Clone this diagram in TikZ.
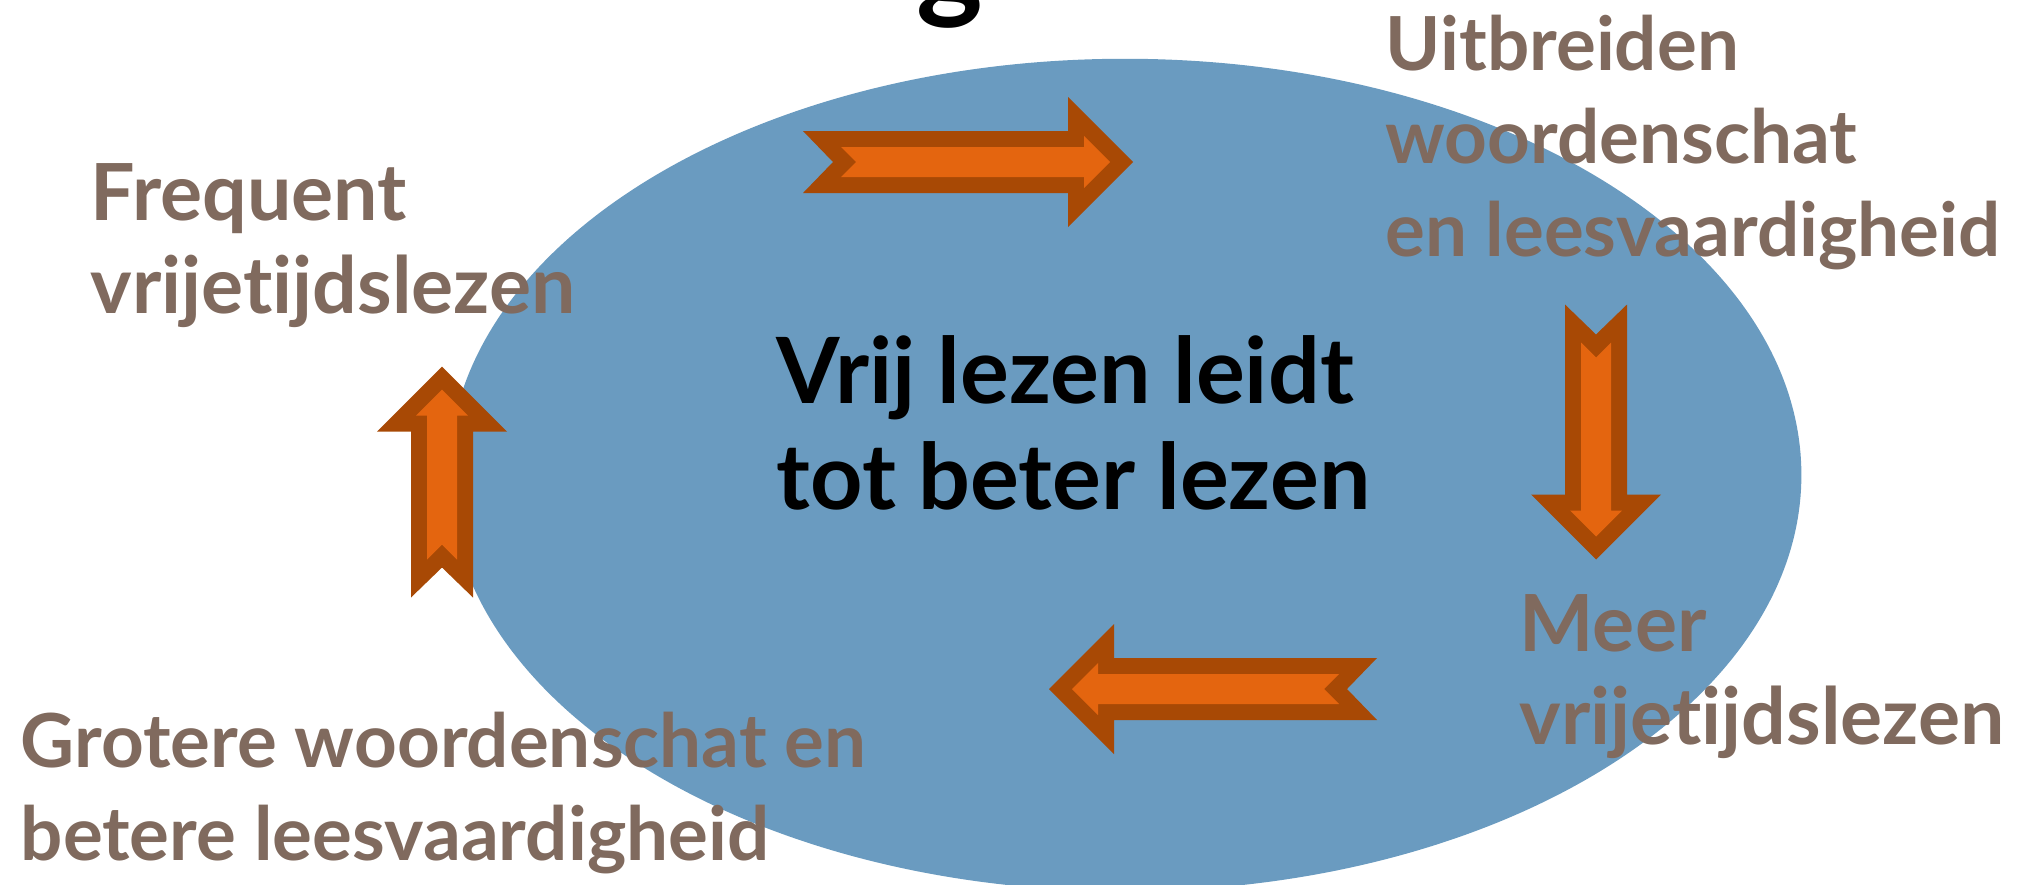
\documentclass[tikz,border=0pt]{standalone}
\usepackage{fontspec}
\setmainfont{Lato}[Ligatures=NoCommon]
\usetikzlibrary{shapes.geometric}
\definecolor{ovalblue}{HTML}{6A9BC0}
\definecolor{arrowrim}{HTML}{A84905}
\definecolor{arrowcore}{HTML}{E4650F}
\definecolor{stepbrown}{HTML}{806A5E}

\begin{document}
\begin{tikzpicture}[
  x=0.01cm, y=-0.01cm,
  phase/.style={text=stepbrown, font=\fontsize{#1}{26.5}\selectfont\bfseries,
    align=left, anchor=north west, inner sep=0pt},
  phase/.default=22.4,
  core/.style={font=\fontsize{26}{30}\selectfont\bfseries,
    align=left, anchor=north west, inner sep=0pt},
  pics/cyclearrow/.style={code={
    \fill[arrowrim] (-#1/2,31) -- (-#1/2+30,0) -- (-#1/2,-31) -- (#1/2-65,-31)
      -- (#1/2-65,-65) -- (#1/2,0) -- (#1/2-65,65) -- (#1/2-65,31) -- cycle;
    \fill[arrowcore] (-#1/2+38,15) -- (-#1/2+53,0) -- (-#1/2+38,-15) -- (#1/2-49,-15)
      -- (#1/2-49,-26) -- (#1/2-23,0) -- (#1/2-49,26) -- (#1/2-49,15) -- cycle;
  }}
]
  \useasboundingbox (0,0) rectangle (2039,884);

  \node[ellipse, fill=ovalblue, inner sep=0pt, minimum width=13.52cm,
    minimum height=8.32cm] (oval) at (1125,475) {};

  % title, cut off at the top
  \node[anchor=south, inner sep=0pt, font=\fontsize{36}{36}\selectfont\bfseries]
    (title) at (950,29) {g};

  \node[core] (claim) at (776,335) {Vrij lezen leidt\\tot beter lezen};

  % Steps of the cycle
  \node[phase] (frequent) at (90,163) {Frequent\\vrijetijdslezen};
  \node[phase=21.2] (uitbreiden) at (1385,14) {Uitbreiden\\woordenschat\\en leesvaardigheid};
  \node[phase] (meer) at (1519,594) {Meer\\vrijetijdslezen};
  \node[phase=21.2] (groter) at (20,711) {Grotere woordenschat en\\betere leesvaardigheid};

  % Arrows
  \pic at (968,162) {cyclearrow=330};
  \pic[rotate=-90] at (1596,432) {cyclearrow=255};
  \pic[rotate=180] at (1213,689) {cyclearrow=328};
  \pic[rotate=90] at (442,482) {cyclearrow=231};

\end{tikzpicture}
\end{document}
